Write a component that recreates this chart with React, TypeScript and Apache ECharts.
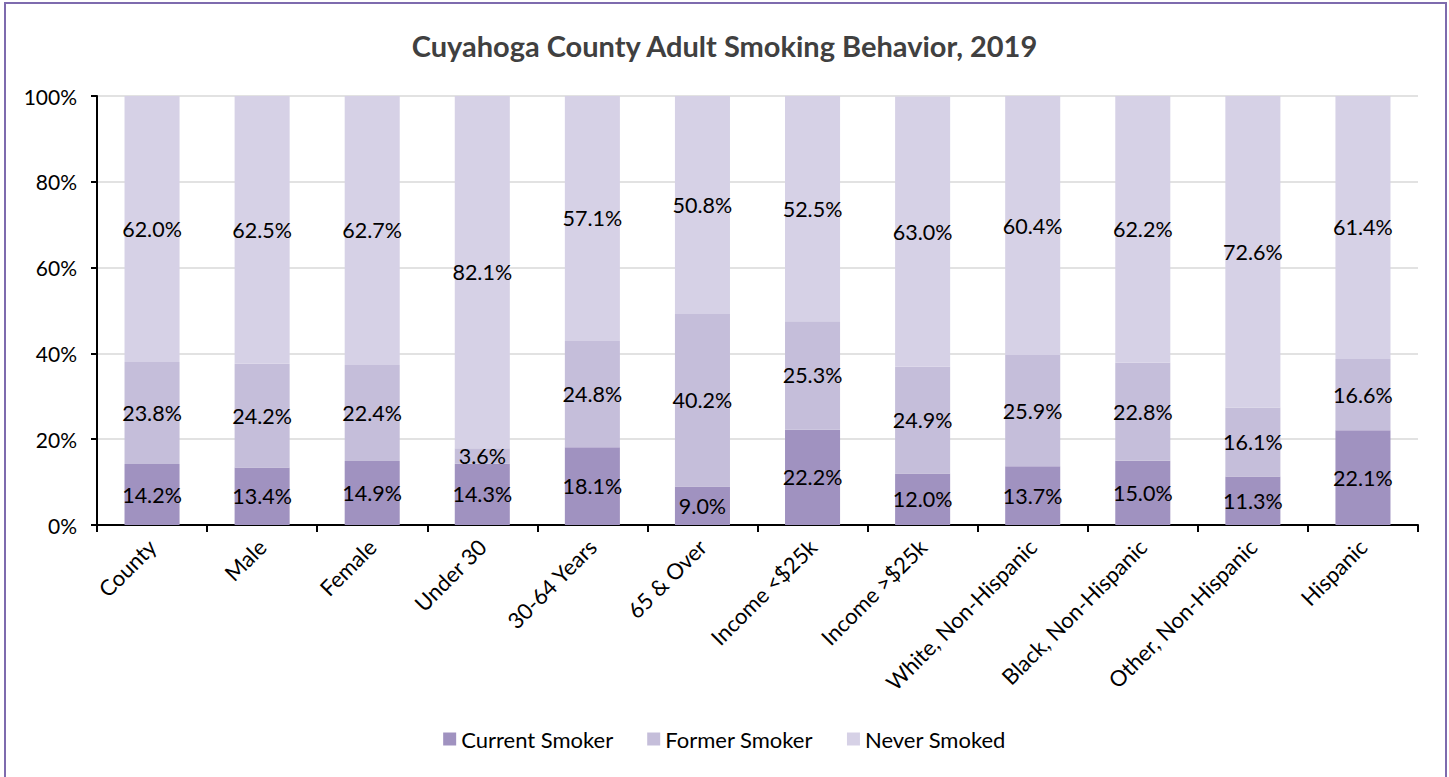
import React, { useEffect, useRef } from "react";
import * as echarts from "echarts";

const categories = [
  "County", "Male", "Female", "Under 30", "30-64 Years", "65 & Over",
  "Income <$25k", "Income >$25k", "White, Non-Hispanic", "Black, Non-Hispanic",
  "Other, Non-Hispanic", "Hispanic",
];
const currentSmoker = [14.2, 13.4, 14.9, 14.3, 18.1, 9.0, 22.2, 12.0, 13.7, 15.0, 11.3, 22.1];
const formerSmoker = [23.8, 24.2, 22.4, 3.6, 24.8, 40.2, 25.3, 24.9, 25.9, 22.8, 16.1, 16.6];
const neverSmoked = [62.0, 62.5, 62.7, 82.1, 57.1, 50.8, 52.5, 63.0, 60.4, 62.2, 72.6, 61.4];
const yTicks = [0, 20, 40, 60, 80, 100];

const FONT = "Lato, 'Open Sans', sans-serif";

export default function App() {
  const ref = useRef<HTMLDivElement>(null);
  useEffect(() => {
    if (!ref.current) return;
    const chart = echarts.init(ref.current, null, { renderer: "svg" });
    const label = {
      show: true,
      position: "inside",
      color: "#000",
      fontSize: 21.5,
      fontFamily: FONT,
      formatter: (p: any) => Number(p.value).toFixed(1) + "%",
    };
    const mk = (name: string, data: number[], color: string) => ({
      name,
      type: "bar",
      stack: "total",
      data,
      barWidth: "50%",
      itemStyle: { color },
      label,
    });
    chart.setOption({
      animation: false,
      textStyle: { fontFamily: FONT },
      title: {
        text: "Cuyahoga County Adult Smoking Behavior, 2019",
        left: "center",
        top: 26,
        textStyle: { fontSize: 29, fontWeight: "bold", color: "#404040", fontFamily: FONT },
      },
      graphic: [
        {
          type: "rect",
          shape: { x: 5, y: 3, width: 1441, height: 790 },
          style: { fill: "none", stroke: "#7E6BAE", lineWidth: 2 },
          silent: true,
        },
      ],
      legend: {
        bottom: 22,
        left: "center",
        icon: "rect",
        itemWidth: 13,
        itemHeight: 13,
        itemGap: 34,
        textStyle: { fontSize: 22, color: "#000", fontFamily: FONT },
        data: ["Current Smoker", "Former Smoker", "Never Smoked"],
      },
      grid: { left: 97, right: 31, top: 96, bottom: 252, containLabel: false },
      xAxis: {
        type: "category",
        data: categories,
        axisLine: { lineStyle: { color: "#000", width: 2 } },
        axisTick: { show: true, length: 7, lineStyle: { color: "#000", width: 2 } },
        axisLabel: { rotate: 45, fontSize: 22, color: "#000", margin: 18, interval: 0, fontFamily: FONT },
      },
      yAxis: {
        type: "value",
        min: yTicks[0],
        max: yTicks[yTicks.length - 1],
        interval: 20,
        axisLine: { show: true, lineStyle: { color: "#000", width: 2 } },
        axisTick: { show: true, length: 6, lineStyle: { color: "#000", width: 2 } },
        axisLabel: { fontSize: 21, color: "#000", margin: 20, formatter: "{value}%", fontFamily: FONT },
        splitLine: { lineStyle: { color: "#D9D9D9", width: 1.5 } },
      },
      series: [
        mk("Current Smoker", currentSmoker, "#A092C0"),
        mk("Former Smoker", formerSmoker, "#C5BEDA"),
        mk("Never Smoked", neverSmoked, "#D6D1E6"),
      ],
    });
    return () => chart.dispose();
  }, []);
  return (
    <div
      ref={ref}
      style={{ position: "fixed", left: 0, top: 0, width: 1449, height: 777, background: "#fff" }}
    />
  );
}
